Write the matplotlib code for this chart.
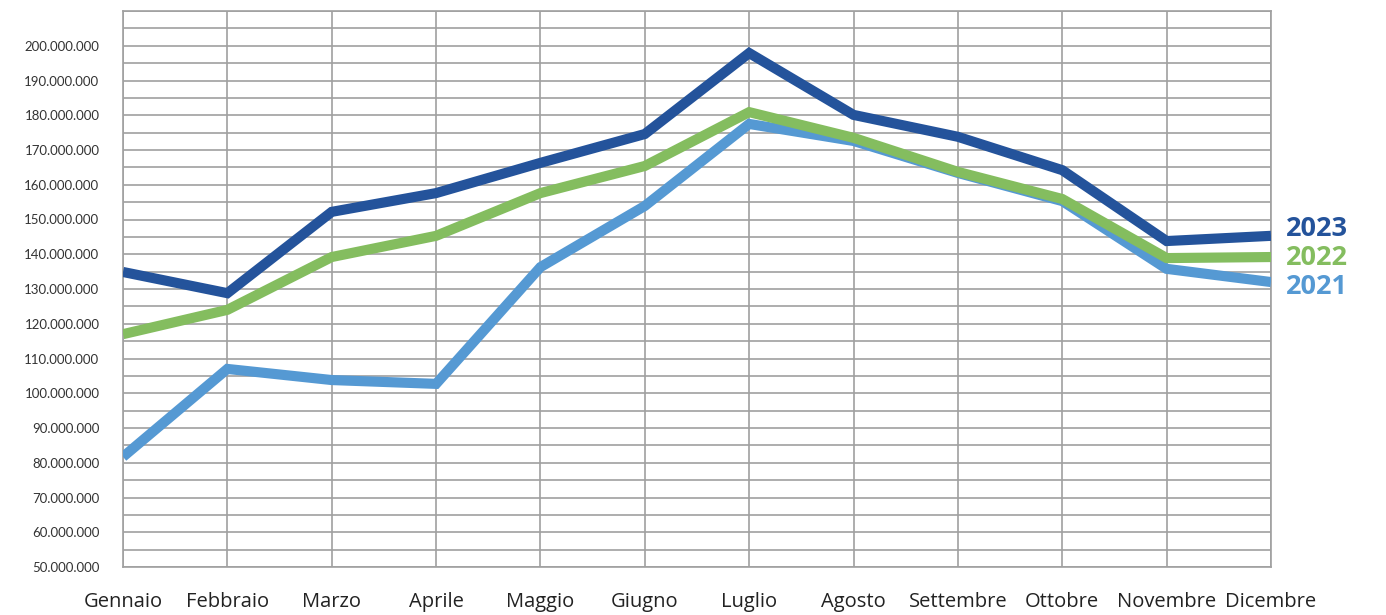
import matplotlib
matplotlib.use("Agg")
import matplotlib.pyplot as plt
from matplotlib.ticker import FuncFormatter, MultipleLocator

months = ["Gennaio", "Febbraio", "Marzo", "Aprile", "Maggio", "Giugno",
          "Luglio", "Agosto", "Settembre", "Ottobre", "Novembre", "Dicembre"]
years = ["2023", "2022", "2021"]
v2023 = [134.9, 128.8, 152.2, 157.6, 166.3, 174.6, 197.9, 180.1, 173.8, 164.2, 143.8, 145.3]
v2022 = [117.0, 124.0, 139.2, 145.3, 157.6, 165.4, 180.9, 173.5, 163.7, 155.9, 138.9, 139.2]
v2021 = [81.7, 107.0, 103.8, 102.7, 136.3, 153.9, 177.5, 172.6, 163.4, 155.3, 135.8, 132.0]
series = [v2021, v2022, v2023]
series_years = ["2021", "2022", "2023"]
colors = {"2023": "#24539b", "2022": "#84bd5f", "2021": "#5599d3"}

fig = plt.figure(figsize=(13.86, 6.15), dpi=100)
ax = fig.add_axes([123/1386, 1-567/615, (1271-123)/1386, (567-11)/615])

x = list(range(len(months)))
for yr, vals in zip(series_years, series):
    ax.plot(x, [v*1e6 for v in vals], color=colors[yr], lw=7.3,
            solid_joinstyle="miter", solid_capstyle="butt", zorder=3)

ax.set_xlim(0, 11)
ax.set_ylim(50e6, 210e6)
ax.set_xticks(x)
ax.set_xticklabels(months, fontsize=14.5, family="Open Sans", color="#222222")
ax.yaxis.set_major_locator(plt.FixedLocator([v*1e6 for v in range(50, 201, 10)]))
ax.yaxis.set_minor_locator(MultipleLocator(5e6))
ax.yaxis.set_major_formatter(FuncFormatter(lambda v, p: f"{v:,.0f}".replace(",", ".")))
for lab in ax.get_yticklabels():
    lab.set_fontsize(9.5)
    lab.set_family("Lato")
    lab.set_color("#333333")
ax.tick_params(axis="both", which="both", length=0)
ax.tick_params(axis="y", pad=17)
ax.tick_params(axis="x", pad=18)
ax.grid(True, which="both", axis="y", color="#a0a0a0", lw=1.2, zorder=0)
ax.grid(True, which="major", axis="x", color="#a0a0a0", lw=1.2, zorder=0)
for s in ax.spines.values():
    s.set_color("#a0a0a0")
    s.set_linewidth(1.2)

label_y = {"2023": 229, "2022": 258, "2021": 287}
for yr in years:
    fig.text(1286/1386, 1-label_y[yr]/615, yr, color=colors[yr], fontsize=19.5,
             fontweight="bold", family="Open Sans", va="center", ha="left")

fig.savefig("out.png", dpi=100)
